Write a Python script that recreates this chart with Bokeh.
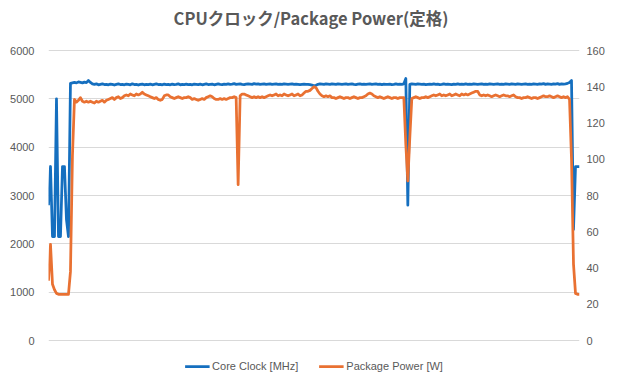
from bokeh.plotting import figure
from bokeh.models import (Range1d, LinearAxis, FixedTicker, Legend, LegendItem,
                          ColumnDataSource, Label)
from bokeh.embed import file_html
from bokeh.resources import INLINE

title_text = "CPUクロック/Package Power(定格)"
clock_label = "Core Clock [MHz]"
power_label = "Package Power [W]"

clock_ticks = [0, 1000, 2000, 3000, 4000, 5000, 6000]
power_ticks = [0, 20, 40, 60, 80, 100, 120, 140, 160]

# Core clock [MHz], one sample per step
clock = [
    2800, 3600, 2150, 2150, 5000, 2150, 2150, 3600, 3600, 2500,
    2150, 5320, 5330, 5340, 5330, 5350, 5340, 5330, 5345, 5335,
    5380, 5340, 5310, 5300, 5310, 5290, 5300, 5310, 5295, 5300,
    5290, 5305, 5300, 5285, 5300, 5310, 5295, 5300, 5290, 5305,
    5300, 5290, 5310, 5295, 5300, 5285, 5300, 5305, 5290, 5300,
    5295, 5305, 5290, 5300, 5310, 5295, 5300, 5290, 5305, 5295,
    5300, 5290, 5305, 5295, 5300, 5310, 5290, 5300, 5295, 5305,
    5295, 5300, 5290, 5305, 5300, 5295, 5305, 5290, 5300, 5310,
    5295, 5300, 5305, 5290, 5300, 5310, 5300, 5295, 5305, 5300,
    5310, 5300, 5305, 5315, 5300, 5305, 5310, 5300, 5295, 5305,
    5310, 5305, 5300, 5315, 5305, 5310, 5300, 5305, 5310, 5300,
    5305, 5310, 5300, 5305, 5310, 5300, 5305, 5300, 5310, 5305,
    5300, 5305, 5310, 5300, 5305, 5300, 5295, 5300, 5305, 5300,
    5300, 5295, 5285, 5270, 5280, 5300, 5310, 5305, 5300, 5310,
    5305, 5300, 5310, 5305, 5300, 5310, 5305, 5300, 5305, 5310,
    5300, 5305, 5310, 5300, 5295, 5305, 5310, 5300, 5305, 5300,
    5305, 5310, 5300, 5305, 5310, 5300, 5305, 5295, 5305, 5300,
    5300, 5305, 5295, 5300, 5310, 5300, 5305, 5300, 5310, 5420,
    2800, 5300, 5310, 5305, 5300, 5310, 5305, 5300, 5305, 5295,
    5300, 5305, 5300, 5310, 5300, 5305, 5295, 5300, 5310, 5300,
    5305, 5300, 5295, 5305, 5300, 5310, 5300, 5305, 5300, 5310,
    5300, 5305, 5300, 5310, 5305, 5300, 5305, 5310, 5300, 5305,
    5300, 5310, 5305, 5300, 5305, 5310, 5300, 5305, 5300, 5310,
    5305, 5300, 5310, 5305, 5300, 5310, 5305, 5300, 5305, 5310,
    5300, 5305, 5300, 5310, 5305, 5300, 5310, 5305, 5315, 5300,
    5310, 5305, 5300, 5310, 5305, 5315, 5300, 5310, 5305, 5310,
    5320, 5340, 5380, 2300, 3600, 3600, 3600,
]

# Package power [W]
power = [
    33, 53, 31, 28, 26, 25.5, 25.5, 25.5, 25.5, 25.5,
    25.5, 38, 102, 133, 131.5, 132.5, 134, 132, 131.5, 132,
    131.5, 132, 131.5, 131, 132, 131.5, 132, 132.5, 131.5, 132.5,
    133, 133.5, 134, 133, 134, 134.5, 133.5, 134, 135, 135.5,
    135, 136, 135.5, 135, 136, 135.5, 136, 137, 136, 135.5,
    135, 134.5, 134, 133.5, 134, 133, 132.5, 133, 135, 135.5,
    135.5, 134.5, 134, 133.5, 134, 134.5, 134, 133.5, 134, 134,
    134.5, 134, 133, 133.5, 133, 132.5, 133, 133.5, 133, 134,
    134.5, 135, 134.5, 133.5, 133, 133, 133.5, 133, 133.5, 133,
    133.5, 134, 134, 134.5, 134, 86, 135, 136, 136, 135.5,
    135, 134.5, 134, 134.5, 134, 134.5, 134, 134.5, 134, 134.5,
    135, 135.5, 135, 135.5, 136, 135, 135.5, 135, 136, 135.5,
    135, 135.5, 136, 135, 135.5, 136, 135, 135.5, 136.5, 137.5,
    137.5, 138, 139, 140, 139.5, 137.5, 136, 135, 134.5, 135,
    134.5, 135, 134, 134, 133.5, 134, 134.5, 134, 133.5, 134,
    134, 133.5, 134, 134.5, 134, 133.5, 134, 134, 134.5, 135,
    136, 136.5, 136, 135, 134.5, 134, 134.5, 134, 133.5, 134,
    134.5, 134, 133.5, 134, 134, 133.5, 134, 134, 134, 108,
    88, 112, 133.5, 134, 134.5, 134, 133.5, 134, 134, 134.5,
    134, 134.5, 135, 135.5, 135, 135.5, 136, 135, 135.5, 135,
    135.5, 136, 135, 135.5, 136, 135.5, 135, 136, 135.5, 136,
    135.5, 136, 136.5, 137, 137.5, 137.5, 135.5, 135, 135.5, 135,
    135.5, 135, 134.5, 135, 135.5, 135, 134.5, 135, 135.5, 135,
    135, 134.5, 135, 135.5, 134.5, 134, 134, 133.5, 134, 134,
    134.5, 134, 133.5, 134, 134, 133.5, 134, 134.5, 135, 134.5,
    134.5, 135, 134.5, 134, 134.5, 135, 134.5, 134, 134.5, 134,
    134.5, 133, 100, 42, 26, 25.5, 25.5,
]

sample = list(range(len(clock)))

BLUE = "#156FBF"
ORANGE = "#E97132"
TEXT = "#595959"
GRID = "#D9D9D9"
FONT = "Liberation Sans"

# layout geometry (pixels): the band from 0 to the top tick is 290px tall;
# the frame continues 50px above it (title strip) and 40px below zero (legend strip)
W, H = 620, 380
band_px = 290.0
top_px = 50.0
bottom_px = 40.0
clock_top = clock_ticks[-1]
power_top = power_ticks[-1]
clock_lo = -clock_top * bottom_px / band_px
clock_hi = clock_top + clock_top * top_px / band_px
power_lo = -power_top * bottom_px / band_px
power_hi = power_top + power_top * top_px / band_px

p = figure(width=W, height=H, output_backend="svg", toolbar_location=None,
           x_axis_type=None,
           x_range=Range1d(0, len(clock) - 1),
           y_range=Range1d(clock_lo, clock_hi),
           min_border_left=48, min_border_right=41,
           min_border_top=0, min_border_bottom=0)
p.outline_line_color = None
p.background_fill_color = "white"
p.border_fill_color = "white"

p.extra_y_ranges = {"power": Range1d(power_lo, power_hi)}

ax = p.yaxis[0]
ax.ticker = FixedTicker(ticks=clock_ticks)
ax.axis_line_color = None
ax.major_tick_line_color = None
ax.minor_tick_line_color = None
ax.major_tick_out = 0
ax.major_tick_in = 0
ax.major_label_standoff = 14
ax.major_label_text_font = FONT
ax.major_label_text_font_size = "11px"
ax.major_label_text_color = TEXT

rax = LinearAxis(y_range_name="power", ticker=FixedTicker(ticks=power_ticks))
rax.axis_line_color = None
rax.major_tick_line_color = None
rax.minor_tick_line_color = None
rax.major_tick_out = 0
rax.major_tick_in = 0
rax.major_label_standoff = 7
rax.major_label_text_font = FONT
rax.major_label_text_font_size = "11px"
rax.major_label_text_color = TEXT
p.add_layout(rax, "right")

p.ygrid.grid_line_color = GRID
p.ygrid.grid_line_width = 1

src = ColumnDataSource(dict(x=sample, clock=clock, power=power))
r1 = p.line("x", "clock", source=src, line_color=BLUE, line_width=2.75, line_join="round")
r2 = p.line("x", "power", source=src, line_color=ORANGE, line_width=2.75, line_join="round",
            y_range_name="power")

# chart title drawn inside the top strip of the frame (screen units from frame bottom-left)
title = Label(x=262.5, y=H - 17, x_units="screen", y_units="screen",
              text=title_text, text_align="center", text_baseline="middle",
              text_font="Noto Sans CJK JP", text_font_size="16.5px",
              text_font_style="bold", text_color=TEXT)
p.add_layout(title)

legend = Legend(items=[LegendItem(label=clock_label, renderers=[r1]),
                       LegendItem(label=power_label, renderers=[r2])],
                orientation="horizontal", location="bottom_center",
                padding=0, margin=8, spacing=20, label_standoff=3,
                glyph_width=25, glyph_height=12, label_height=12,
                label_text_font=FONT, label_text_font_size="11px",
                label_text_color=TEXT, border_line_color=None,
                background_fill_alpha=0)
p.add_layout(legend, "center")

open("out.html", "w").write(file_html(p, INLINE))
